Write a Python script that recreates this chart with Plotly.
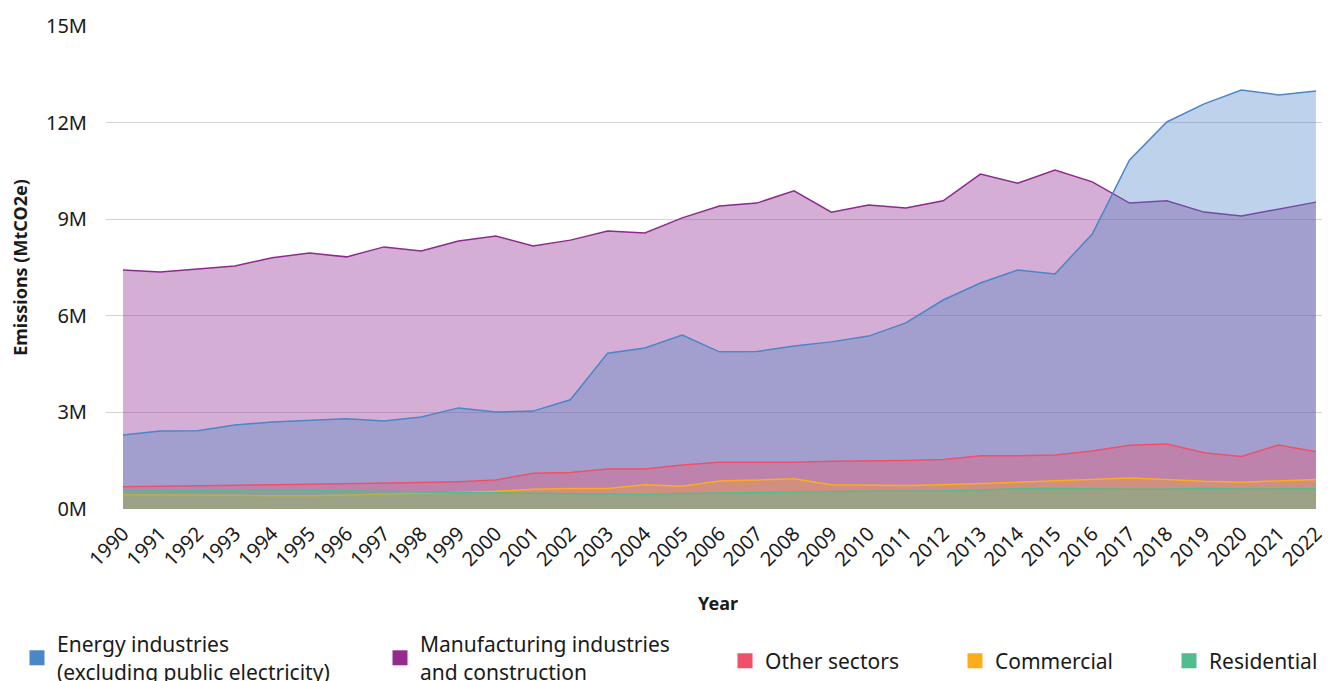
import plotly.graph_objects as go

years = list(range(1990, 2023))
energy = [2.30, 2.42, 2.43, 2.61, 2.70, 2.76, 2.80, 2.73, 2.86, 3.14, 3.01, 3.04, 3.39, 4.84, 5.00, 5.40,
          4.88, 4.89, 5.06, 5.19, 5.37, 5.78, 6.49, 7.02, 7.42, 7.30, 8.54, 10.84, 12.02, 12.58, 13.01,
          12.86, 12.98]
manufacturing = [7.42, 7.36, 7.45, 7.55, 7.80, 7.95, 7.83, 8.14, 8.01, 8.32, 8.48, 8.17, 8.35, 8.63, 8.57,
                 9.04, 9.41, 9.50, 9.88, 9.22, 9.44, 9.35, 9.57, 10.40, 10.12, 10.53, 10.16, 9.50, 9.57,
                 9.22, 9.10, 9.32, 9.53]
other = [0.69, 0.70, 0.71, 0.73, 0.75, 0.77, 0.78, 0.80, 0.82, 0.85, 0.90, 1.11, 1.13, 1.24, 1.24, 1.37,
         1.45, 1.45, 1.45, 1.48, 1.49, 1.51, 1.54, 1.65, 1.65, 1.68, 1.80, 1.98, 2.02, 1.75, 1.63, 1.99, 1.78]
commercial = [0.445, 0.445, 0.435, 0.425, 0.41, 0.41, 0.435, 0.455, 0.49, 0.52, 0.55, 0.61, 0.64, 0.64,
              0.75, 0.71, 0.87, 0.90, 0.94, 0.75, 0.73, 0.73, 0.75, 0.79, 0.84, 0.87, 0.91, 0.96, 0.92,
              0.86, 0.83, 0.88, 0.92]
residential = [0.56, 0.57, 0.58, 0.59, 0.59, 0.58, 0.57, 0.56, 0.53, 0.51, 0.50, 0.49, 0.46, 0.47, 0.45,
               0.48, 0.50, 0.52, 0.54, 0.54, 0.55, 0.55, 0.56, 0.59, 0.63, 0.64, 0.62, 0.61, 0.61, 0.64,
               0.62, 0.63, 0.63]

y_tickvals = [0, 3e6, 6e6, 9e6, 12e6, 15e6]
y_ticktext = ["0M", "3M", "6M", "9M", "12M", "15M"]

FONT = "Noto Sans"
TXT = "#1a1a1a"
W, H = 1322, 673  # page body has an 8px margin

series = [
    # name, values, line colour, fill colour, legend colour, legend id, legend x(px), legend y(px)
    ("Manufacturing industries<br>and construction", manufacturing, "#8E2A8E", "rgba(142,42,142,0.38)", "#952A8E", "legend2", 372, 650),
    ("Energy industries<br>(excluding public electricity)", energy, "#4A86C8", "rgba(74,134,200,0.36)", "#4A86C8", "legend", 9, 650),
    ("Other sectors", other, "#F0506A", "rgba(240,80,106,0.35)", "#F0506A", "legend3", 717, 653),
    ("Commercial", commercial, "#FBAD1A", "rgba(251,173,26,0.30)", "#FBAD1A", "legend4", 947, 653),
    ("Residential", residential, "#52BD8C", "rgba(82,189,140,0.42)", "#52BD8C", "legend5", 1161, 653),
]

fig = go.Figure()
for name, vals, lc, fc, _, _, _, _ in series:
    fig.add_trace(go.Scatter(
        x=years, y=[v * 1e6 for v in vals], mode="lines", name=name.replace("<br>", " "),
        line=dict(color=lc, width=1.5), fill="tozeroy", fillcolor=fc, showlegend=False,
        hovertemplate="%{x}: %{y:,.0f}<extra></extra>",
    ))

legend_layouts = {}
for name, _, _, _, legc, lid, lx, ly in series:
    fig.add_trace(go.Scatter(
        x=[None], y=[None], mode="markers", name=name, legend=lid,
        marker=dict(symbol="square", size=15, color=legc), showlegend=True,
    ))
    legend_layouts[lid] = dict(
        x=lx / W, xref="container", xanchor="left",
        y=1 - ly / H, yref="container", yanchor="middle",
        orientation="h", font=dict(family=FONT, size=21, color=TXT),
        bgcolor="rgba(0,0,0,0)", itemclick=False, itemdoubleclick=False,
    )

fig.update_layout(
    width=W, height=H,
    margin=dict(l=98, r=0, t=18, b=172),
    paper_bgcolor="white", plot_bgcolor="white",
    font=dict(family=FONT, color=TXT),
    **legend_layouts,
)

fig.update_xaxes(
    range=[1989.544, 2022.377], tickmode="array", tickvals=years, ticktext=[str(y) for y in years],
    tickangle=-45, tickfont=dict(family=FONT, size=20, color=TXT), ticklabelstandoff=8,
    showgrid=False, zeroline=False, showline=False, ticks="",
    title=dict(text="<b>Year</b>", font=dict(family=FONT, size=18, color=TXT), standoff=26),
    automargin=False,
)
fig.update_yaxes(
    range=[0, 15e6], tickmode="array", tickvals=y_tickvals, ticktext=y_ticktext,
    tickfont=dict(family=FONT, size=20, color=TXT), ticklabelstandoff=18,
    showgrid=True, gridcolor="#d4d4d4", gridwidth=1, zeroline=False, showline=False, ticks="",
    title=dict(text="<b>Emissions (MtCO2e)</b>", font=dict(family=FONT, size=18, color=TXT), standoff=22),
    automargin=False,
)

fig.write_html("out.html")
